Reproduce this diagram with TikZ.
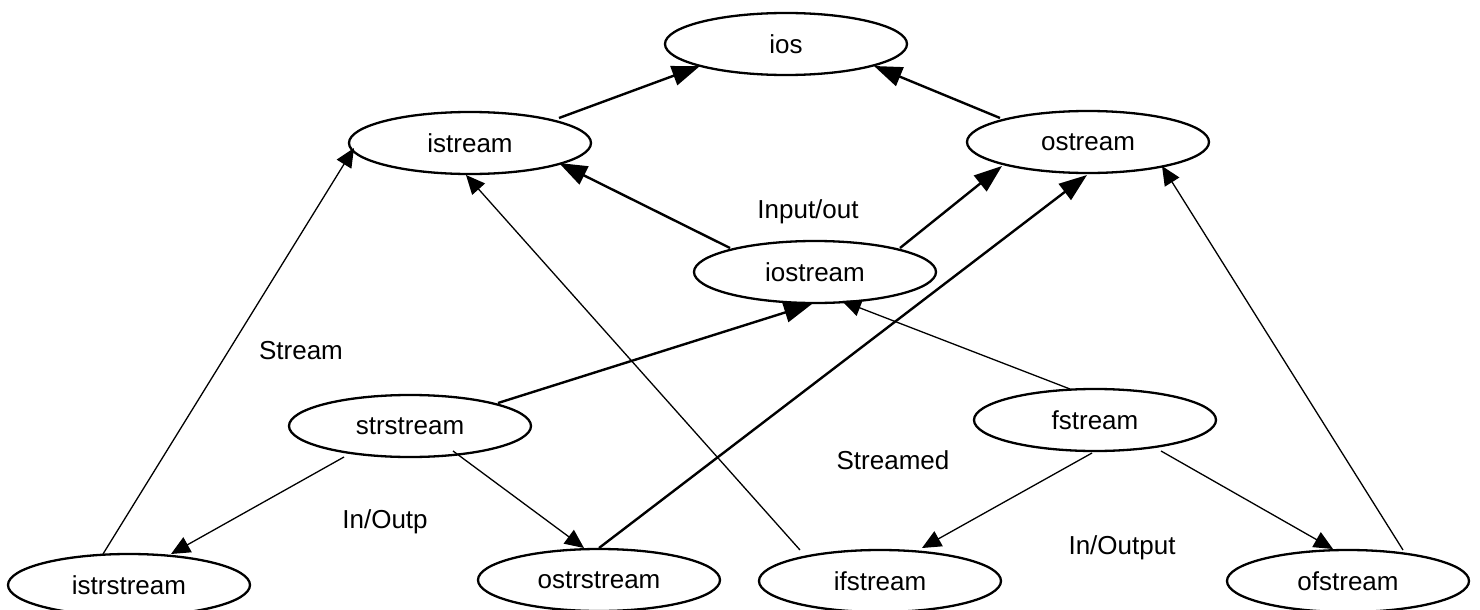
\documentclass[tikz,border=0pt]{standalone}
\usepackage{fontspec}
\setmainfont{Liberation Sans}
\usetikzlibrary{shapes.geometric,arrows.meta}
\begin{document}
\begin{tikzpicture}[x=1pt,y=-1pt,
  cls/.style={ellipse,draw,line width=2.3pt,minimum width=242pt,minimum height=62pt,inner sep=0pt,font=\fontsize{26}{30}\selectfont},
  lbl/.style={inner sep=0pt,font=\fontsize{26}{30}\selectfont},
  strong/.style={line width=2.4pt,-{Triangle[length=28pt,width=20pt]}},
  weak/.style={line width=1.3pt,-{Triangle[length=19pt,width=17pt]}}]
\fill[white] (0,0) rectangle (1480,610);
\useasboundingbox (0,0) rectangle (1480,610);
% classes
\node[cls] (ios) at (786,44) {ios};
\node[cls] (istream) at (470,143) {istream};
\node[cls] (ostream) at (1088,142) {ostream};
\node[cls] (iostream) at (815,272) {iostream};
\node[cls] (strstream) at (410,426) {strstream};
\node[cls] (fstream) at (1095,420) {fstream};
\node[cls] (istrstream) at (129,585) {istrstream};
\node[cls] (ostrstream) at (599,580) {ostrstream};
\node[cls] (ifstream) at (880,581) {ifstream};
\node[cls] (ofstream) at (1348,581) {ofstream};
% labels
\node[lbl] (l1) at (808,212) {Input/out};
\node[lbl] (l2) at (301,351) {Stream};
\node[lbl] (l3) at (385,522) {In/Outp};
\node[lbl] (l4) at (893,460) {Streamed};
\node[lbl] (l5) at (1122,548) {In/Output};
% thick connectors
\draw[strong] ([shift={(89,-25)}]istream.center) -- ([shift={(-86,22)}]ios.center);
\draw[strong] ([shift={(-88,-24)}]ostream.center) -- ([shift={(88,22)}]ios.center);
\draw[strong] ([shift={(-85,-24)}]iostream.center) -- ([shift={(89,20)}]istream.center);
\draw[strong] ([shift={(85,-24)}]iostream.center) -- ([shift={(-86,24)}]ostream.center);
\draw[strong] ([shift={(88,-23)}]strstream.center) -- ([shift={(-3,32)}]iostream.center);
\draw[strong] ([shift={(0,-32)}]ostrstream.center) -- ([shift={(-1,33)}]ostream.center);
% thin connectors
\draw[weak] ([shift={(-25,-31)}]fstream.center) -- ([shift={(27,29)}]iostream.center);
\draw[weak] ([shift={(-80,-31)}]ifstream.center) -- ([shift={(-4,32)}]istream.center);
\draw[weak] ([shift={(-26,-31)}]istrstream.center) -- ([shift={(-116,5)}]istream.center);
\draw[weak] ([shift={(55,-31)}]ofstream.center) -- ([shift={(74,24)}]ostream.center);
\draw[weak] ([shift={(-66,31)}]strstream.center) -- ([shift={(42,-31)}]istrstream.center);
\draw[weak] ([shift={(43,25)}]strstream.center) -- ([shift={(-15,-32)}]ostrstream.center);
\draw[weak] ([shift={(-3,33)}]fstream.center) -- ([shift={(42,-33)}]ifstream.center);
\draw[weak] ([shift={(66,31)}]fstream.center) -- ([shift={(-15,-32)}]ofstream.center);
\end{tikzpicture}
\end{document}
